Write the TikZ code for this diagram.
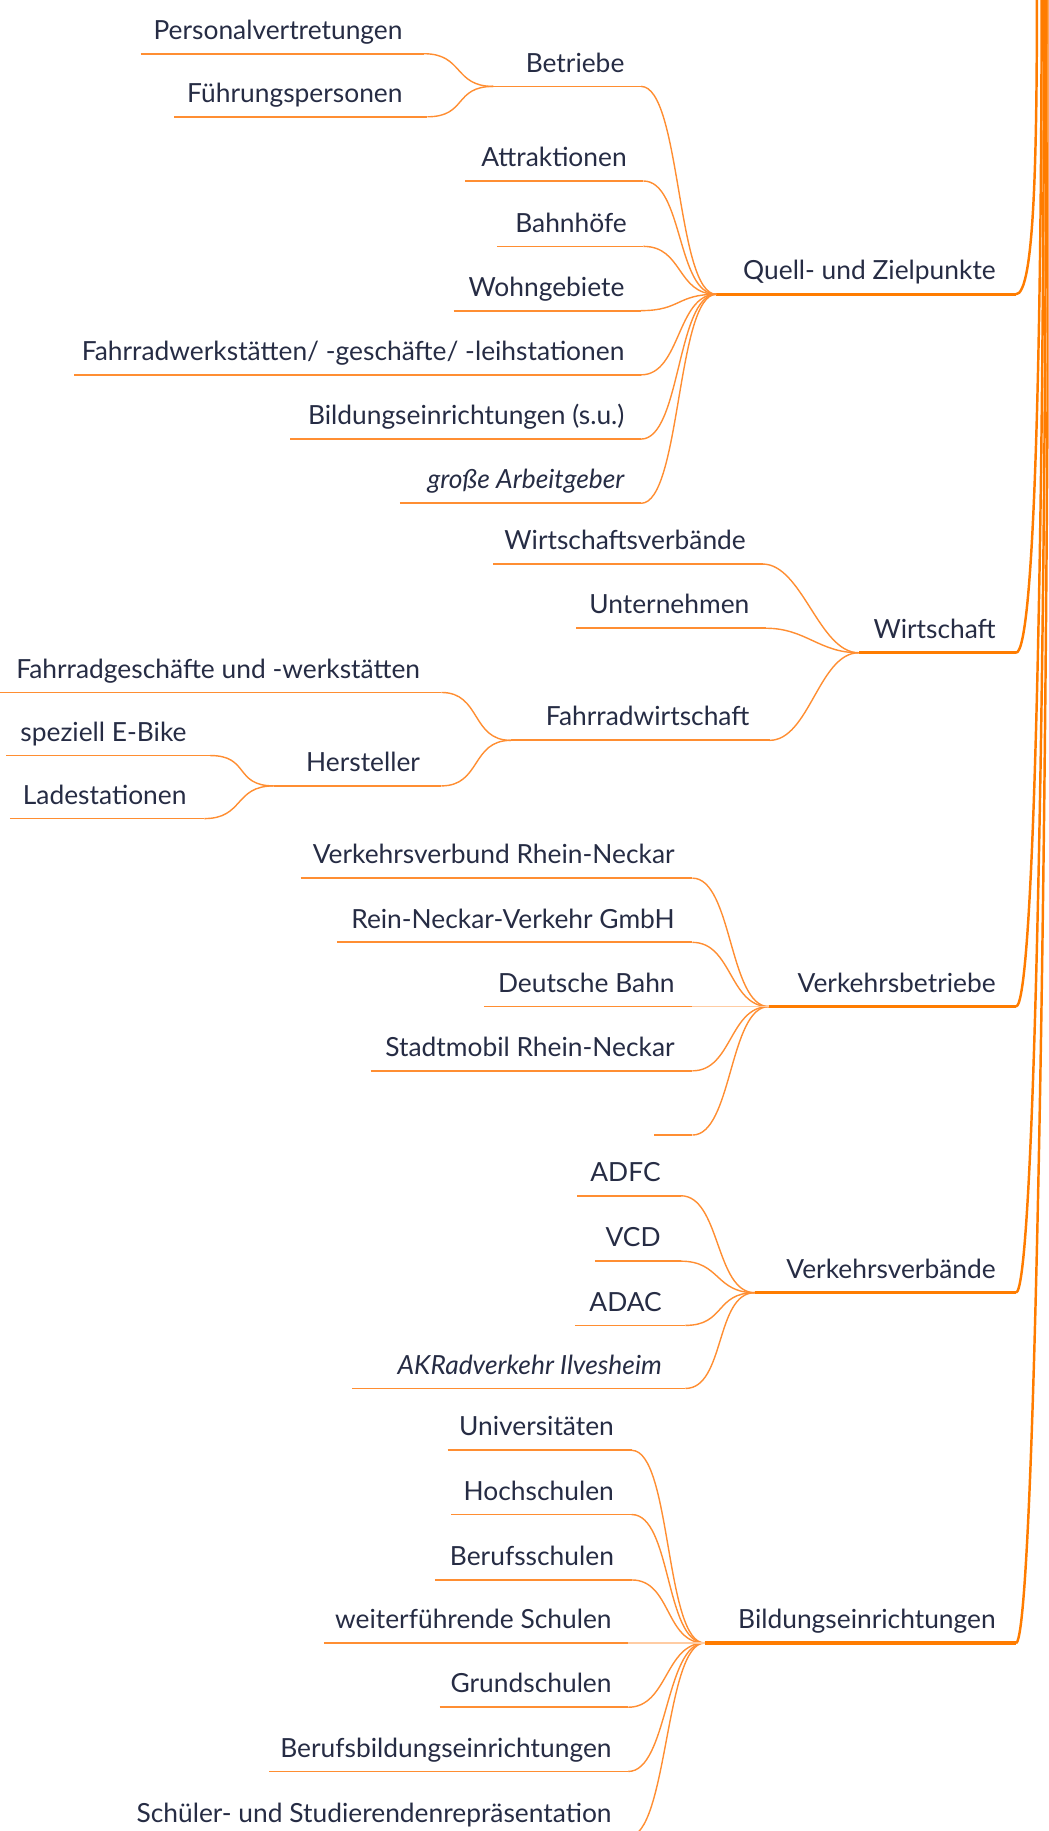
\documentclass[tikz,border=0pt]{standalone}
\usepackage{fontspec}
\setmainfont{Lato}
\newlength\pxu
\setlength\pxu{0.023363cm}
\definecolor{bough}{RGB}{255,124,0}
\definecolor{twig}{RGB}{255,142,50}
\definecolor{ink}{RGB}{38,44,68}
% label box: [right padding]{line length}{text}
\newcommand\leaf[3][14]{\makebox[#2\pxu][r]{#3\hspace{#1\pxu}}}

\begin{document}
\begin{tikzpicture}[x=\pxu,y=-\pxu,
	topic/.style={anchor=south east, inner sep=0pt, text=ink, font=\fontsize{15pt}{18pt}\selectfont, text height=16\pxu, text depth=12\pxu},
	stem/.style={draw=twig, line width=1pt},
	boughline/.style={draw=bough, line width=1.8pt},
	twiglink/.style={draw=twig, line width=0.8pt},
	trunk/.style={draw=bough, line width=1.4pt}]
			%%%%% START %%%%%
			
			\useasboundingbox (0,0) rectangle (898,1568);
			\clip (0,0) rectangle (898,1568);
			
			\coordinate (root) at (893,-10);
			
			% Quell- und Zielpunkte
			\node[topic] (qz) at (870,252) {\leaf[17]{256}{Quell- und Zielpunkte}};
			\node[topic] (bt) at (549,74) {\leaf{126}{Betriebe}};
			\node[topic] (pv) at (363,46) {\leaf[18]{242}{Personalvertretungen}};
			\node[topic] (fp) at (366,100) {\leaf[21]{216}{Führungspersonen}};
			\node[topic] (at) at (551,155) {\leaf{152}{Attraktionen}};
			\node[topic] (bh) at (551,211) {\leaf{125}{Bahnhöfe}};
			\node[topic] (wg) at (549,266) {\leaf{160}{Wohngebiete}};
			\node[topic] (fw) at (549,321) {\leaf{485}{Fahrradwerkstätten/ -geschäfte/ -leihstationen}};
			\node[topic] (bs) at (549,376) {\leaf{300}{Bildungseinrichtungen (s.u.)}};
			\node[topic] (ga) at (549,431) {\leaf{206}{\itshape große Arbeitgeber}};
			
			% Wirtschaft
			\node[topic] (wi) at (870,559) {\leaf[17]{134}{Wirtschaft}};
			\node[topic] (wv) at (653,483) {\leaf{230}{Wirtschaftsverbände}};
			\node[topic] (un) at (656,538) {\leaf{162}{Unternehmen}};
			\node[topic] (fa) at (659,634) {\leaf[17]{221}{Fahrradwirtschaft}};
			\node[topic] (fg) at (378,593) {\leaf[18]{378}{Fahrradgeschäfte und -werkstätten}};
			\node[topic] (he) at (378,673) {\leaf[18]{143}{Hersteller}};
			\node[topic] (eb) at (180,647) {\leaf[20]{174}{speziell E-Bike}};
			\node[topic] (ls) at (175,701) {\leaf[15]{166}{Ladestationen}};
			
			% Verkehrsbetriebe
			\node[topic] (vb) at (870,862) {\leaf[17]{211}{Verkehrsbetriebe}};
			\node[topic] (vv) at (593,752) {\leaf[15]{335}{Verkehrsverbund Rhein-Neckar}};
			\node[topic] (rn) at (593,807) {\leaf[15]{304}{Rein-Neckar-Verkehr GmbH}};
			\node[topic] (db) at (593,862) {\leaf[15]{178}{Deutsche Bahn}};
			\node[topic] (sm) at (593,917) {\leaf[15]{275}{Stadtmobil Rhein-Neckar}};
			\node[topic] (lr) at (593,972) {\leaf{32}{}};
			
			% Verkehrsverbaende
			\node[topic] (vd) at (870,1107) {\leaf[17]{223}{Verkehrsverbände}};
			\node[topic] (ad) at (583,1024) {\leaf[17]{88}{ADFC}};
			\node[topic] (vc) at (583,1080) {\leaf[17]{73}{VCD}};
			\node[topic] (ac) at (587,1135) {\leaf[20]{94}{ADAC}};
			\node[topic] (ak) at (587,1189) {\leaf[20]{285}{\itshape AKRadverkehr Ilvesheim}};
			
			% Bildungseinrichtungen
			\node[topic] (be) at (870,1407) {\leaf[17]{266}{Bildungseinrichtungen}};
			\node[topic] (uv) at (541,1242) {\leaf[15]{157}{Universitäten}};
			\node[topic] (hs) at (541,1297) {\leaf[15]{154}{Hochschulen}};
			\node[topic] (bf) at (541,1353) {\leaf[15]{168}{Berufsschulen}};
			\node[topic] (ws) at (538,1407) {\leaf{260}{weiterführende Schulen}};
			\node[topic] (gs) at (538,1462) {\leaf{161}{Grundschulen}};
			\node[topic] (bb) at (538,1517) {\leaf{307}{Berufsbildungseinrichtungen}};
			\node[topic] (ss) at (538,1573) {\leaf{433}{Schüler- und Studierendenrepräsentation}};
			
			% underlines
			\foreach \n in {qz,wi,vb,vd,be}
				\draw[boughline] (\n.south west) -- (\n.south east);
			\foreach \n in {bt,pv,fp,at,bh,wg,fw,bs,ga,wv,un,fa,fg,he,eb,ls,vv,rn,db,sm,lr,ad,vc,ac,ak,uv,hs,bf,ws,gs,bb,ss}
				\draw[stem] (\n.south west) -- (\n.south east);
			
			% links to the parent topic
			\foreach \c/\p in {pv/bt,fp/bt,bt/qz,at/qz,bh/qz,wg/qz,fw/qz,bs/qz,ga/qz,
					wv/wi,un/wi,fa/wi,fg/fa,he/fa,eb/he,ls/he,
					vv/vb,rn/vb,sm/vb,lr/vb,
					ad/vd,vc/vd,ac/vd,ak/vd,
					uv/be,hs/be,bf/be,gs/be,bb/be,ss/be}
				\draw[twiglink] (\c.south east) .. controls +(34,0) and +(-34,0) .. (\p.south west);
			\draw[twiglink, draw=twig!45] (db.south east) -- (vb.south west);
			\draw[twiglink, draw=twig!45] (ws.south east) -- (be.south west);
			
			% up to the root
			\draw[trunk] (qz.south east) .. controls +(16,0) and +(0,140) .. ([xshift=-5\pxu]root);
			\draw[trunk] (wi.south east) .. controls +(16,0) and +(0,300) .. ([xshift=-1\pxu]root);
			\draw[trunk] (vb.south east) .. controls +(16,0) and +(0,450) .. ([xshift=1\pxu]root);
			\draw[trunk] (vd.south east) .. controls +(16,0) and +(0,580) .. ([xshift=3\pxu]root);
			\draw[trunk] (be.south east) .. controls +(16,0) and +(0,730) .. ([xshift=5\pxu]root);
			
			%%%%% END %%%%%
\end{tikzpicture}
\end{document}
